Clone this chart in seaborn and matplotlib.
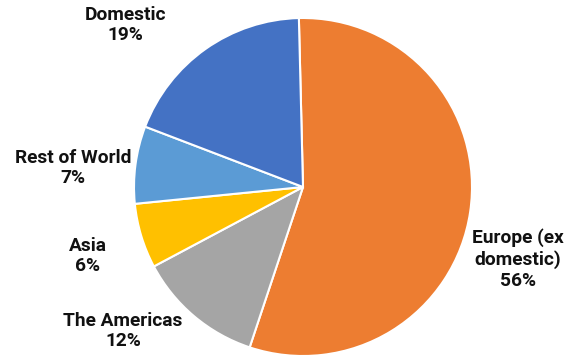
import matplotlib
matplotlib.use("Agg")
import matplotlib.pyplot as plt
import seaborn as sns

sns.set_theme(style="white")
plt.rcParams["font.family"] = ["Roboto", "DejaVu Sans"]

# data, clockwise from 12 o'clock
regions = ["Europe (ex\ndomestic)", "The Americas", "Asia", "Rest of World", "Domestic"]
shares = [55.5, 12.1, 6.2, 7.4, 18.8]
share_labels = ["56%", "12%", "6%", "7%", "19%"]
colors = ["#ED7D31", "#A5A5A5", "#FFC000", "#5B9BD5", "#4472C4"]

# label block centres in pixels (x, y from top)
label_pos = [(518, 259), (123, 331), (88, 256), (73, 168), (125, 25)]

W, H = 575, 357
fig = plt.figure(figsize=(W / 100, H / 100), dpi=100)

cx, cy, r = 303, 187, 169
ax = fig.add_axes([(cx - r) / W, (H - cy - r) / H, 2 * r / W, 2 * r / H])
ax.pie(shares, colors=colors, startangle=91.4, counterclock=False,
       wedgeprops={"edgecolor": "white", "linewidth": 1.5})
ax.set_aspect("auto")
ax.set_xlim(-1, 1)
ax.set_ylim(-1, 1)

for name, lab, (px, py) in zip(regions, share_labels, label_pos):
    fig.text(px / W, 1 - py / H, f"{name}\n{lab}", ha="center", va="center",
             fontsize=13.8, fontweight="bold", color="#111111", linespacing=1.2)

fig.savefig("out.png", dpi=100)
